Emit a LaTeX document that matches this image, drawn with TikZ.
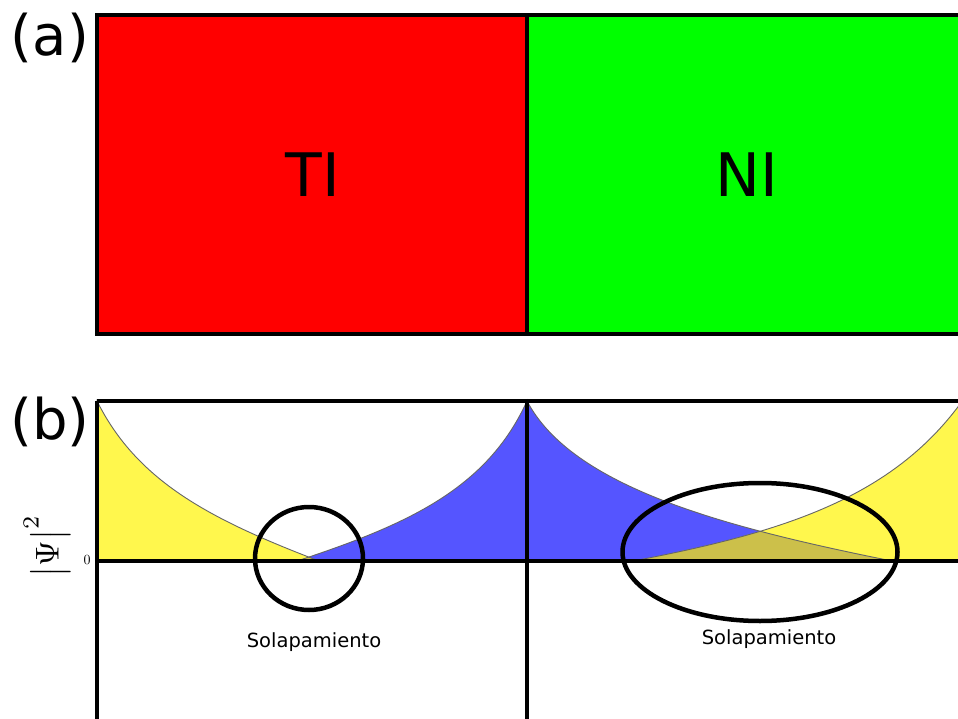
\documentclass[tikz,border=0pt]{standalone}
\usepackage{fontspec}
\setmainfont{DejaVu Sans}
\definecolor{tired}{RGB}{255,0,0}
\definecolor{nigreen}{RGB}{0,255,0}
\definecolor{yel}{RGB}{255,247,77}
\definecolor{blu}{RGB}{85,85,255}
\definecolor{oliv}{RGB}{204,192,74}
\begin{document}
\begin{tikzpicture}[x=1pt,y=-1pt,
  frame/.style={line width=4pt},
  axis/.style={line width=3.5pt},
  outl/.style={draw=black!60, line width=0.9pt},
  ring/.style={draw=black, line width=4.5pt},
  big/.style={font=\fontsize{56}{62}\selectfont},
  huge/.style={font=\fontsize{60}{66}\selectfont},
  lab/.style={font=\fontsize{19.5}{22}\selectfont}]
\clip (0,0) rectangle (958,719);
\fill[white] (0,0) rectangle (958,719);
% ---------- panel (a)
\fill[tired] (97,15) rectangle (527,334);
\fill[nigreen] (527,15) rectangle (975,334);
\draw[frame] (975,15) -- (97,15) -- (97,334) -- (975,334);
\draw[frame] (527,15) -- (527,334);
\node[big] (la) at (50,38) {(a)};
\node[huge] (ti) at (313,175) {TI};
\node[huge] (ni) at (747,175) {NI};
% ---------- panel (b) curves
\path[save path=\pyl] (97,401) .. controls (137,481) and (209,519) .. (319,561) -- (97,561) -- cycle;
\path[save path=\pbl] (297,561) .. controls (407,524.7) and (487,489) .. (527,401) -- (527,561) -- cycle;
\path[save path=\pbr] (527,401) .. controls (572,486.5) and (722,527) .. (892,561) -- (527,561) -- cycle;
\path[save path=\pyr] (633,561) .. controls (783,532.5) and (893,498) .. (963,400) -- (975,400) -- (975,561) -- cycle;
\fill[yel, use path=\pyl];
\fill[blu, use path=\pbl];
\fill[blu, use path=\pbr];
\fill[yel, use path=\pyr];
\begin{scope}
  \clip[use path=\pyl];
  \fill[oliv, use path=\pbl];
\end{scope}
\begin{scope}
  \clip[use path=\pyr];
  \fill[oliv, use path=\pbr];
\end{scope}
\draw[outl, use path=\pyl];
\draw[outl, use path=\pbl];
\draw[outl, use path=\pbr];
\draw[outl, use path=\pyr];
% axes
\coordinate (tl) at (97,401);
\coordinate (tr) at (975,401);
\coordinate (bl) at (97,719);
\coordinate (ml) at (97,561);
\coordinate (mr) at (975,561);
\coordinate (ct) at (527,401);
\coordinate (cb) at (527,719);
\draw[frame] (tl) -- (tr);
\draw[frame] (tl) -- (bl);
\draw[frame] (ct) -- (cb);
\draw[axis] (ml) -- (mr);
% rings
\draw[ring] (309,558.5) ellipse [x radius=54pt, y radius=51.5pt];
\draw[ring] (760,552) ellipse [x radius=137.5pt, y radius=69pt];
% labels
\node[big] (lb) at (50,422) {(b)};
\node[scale=1.4] (zero) at (87,560) {$0$};
\node[rotate=90, scale=3.3] (psi) at (47,546) {$\bigl|\Psi\bigr|^2$};
\node[lab] (s1) at (314,642) {Solapamiento};
\node[lab] (s2) at (769,639) {Solapamiento};
\end{tikzpicture}
\end{document}
